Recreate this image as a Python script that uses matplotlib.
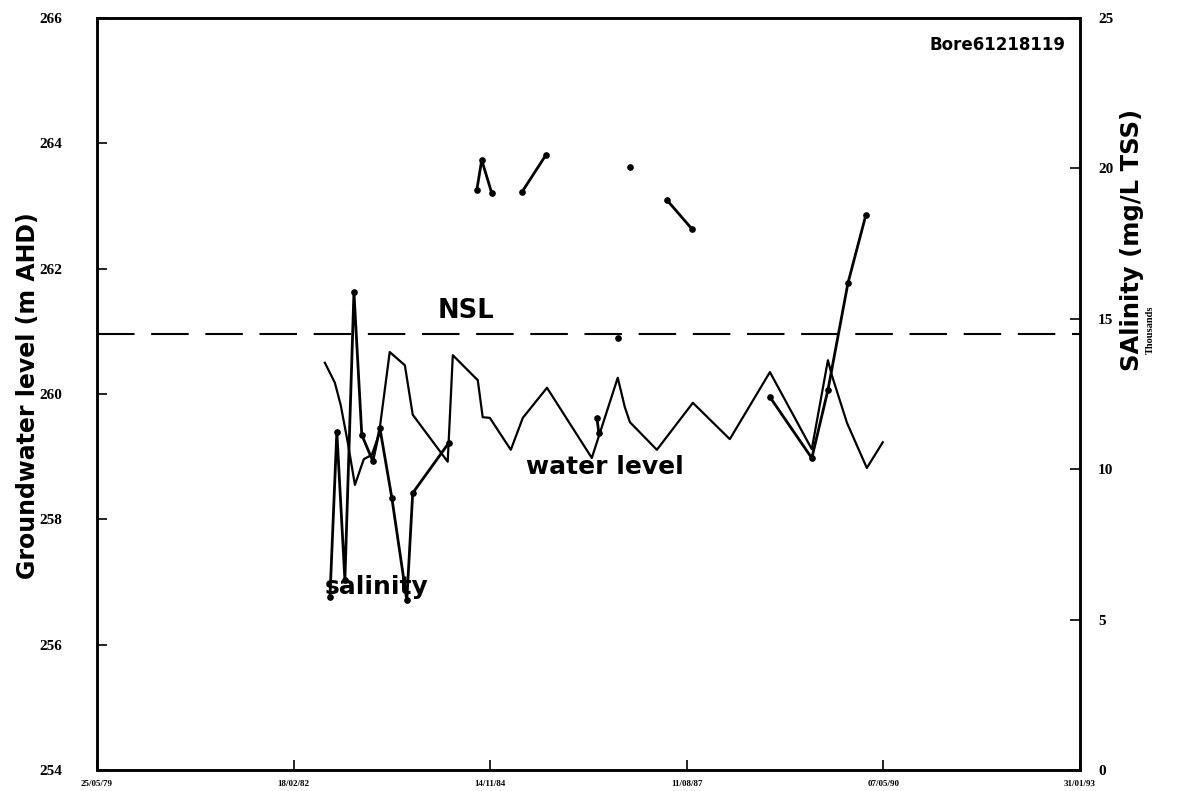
import numpy as np
import pandas as pd
import matplotlib
matplotlib.use("Agg")
import matplotlib.pyplot as plt
import matplotlib.dates as mdates

# --- groundwater level (m AHD) ---
wl_dates = ['27/07/1982', '16/09/1982', '16/10/1982', '21/11/1982', '27/12/1982',
            '10/02/1983', '23/03/1983', '28/04/1983', '22/06/1983', '07/09/1983',
            '17/10/1983', '12/04/1984', '08/05/1984', '12/09/1984', '07/10/1984',
            '12/11/1984', '27/02/1985', '29/04/1985', '30/08/1985', '15/04/1986',
            '25/08/1986', '30/09/1986', '26/10/1986', '12/03/1987', '11/09/1987',
            '17/03/1988', '07/10/1988', '08/05/1989', '29/07/1989', '18/08/1989',
            '03/11/1989', '12/02/1990', '04/05/1990']
wl_values = [260.50, 260.18, 259.82, 259.22, 258.55,
             258.96, 259.03, 259.35, 260.67, 260.46,
             259.67, 258.92, 260.62, 260.22, 259.63,
             259.62, 259.11, 259.62, 260.10, 258.98,
             260.26, 259.79, 259.55, 259.11, 259.86,
             259.28, 260.35, 259.12, 260.54, 260.30,
             259.54, 258.82, 259.23]

# --- salinity (thousand mg/L TSS); run number marks unbroken stretches ---
sal_dates = ['22/08/1982', '26/09/1982', '06/11/1982', '22/12/1982', '31/01/1983',
             '28/03/1983', '03/05/1983', '03/07/1983', '17/09/1983', '17/10/1983',
             '17/04/1984',
             '07/09/1984', '02/10/1984', '22/11/1984',
             '25/04/1985', '25/08/1985',
             '11/05/1986', '21/05/1986',
             '25/08/1986',
             '26/10/1986',
             '02/05/1987', '06/09/1987',
             '07/10/1988', '08/05/1989', '29/07/1989', '08/11/1989', '07/02/1990']
sal_values = [5.75, 11.24, 6.32, 15.89, 11.14,
              10.27, 11.37, 9.04, 5.65, 9.21,
              10.87,
              19.28, 20.28, 19.18,
              19.22, 20.45,
              11.70, 11.20,
              14.36,
              20.05,
              18.95, 17.99,
              12.40, 10.37, 12.63, 16.19, 18.45]
sal_run = [0] * 11 + [1] * 3 + [2] * 2 + [3] * 2 + [4] + [5] + [6] * 2 + [7] * 5

nsl_level = 260.96
x_start, x_end = '25/05/1979', '31/01/1993'

wl = pd.DataFrame({'date': pd.to_datetime(wl_dates, dayfirst=True), 'level': wl_values})
sal = pd.DataFrame({'date': pd.to_datetime(sal_dates, dayfirst=True),
                    'tss': sal_values, 'run': sal_run})

fig = plt.figure(figsize=(11.8, 7.91), dpi=100)
ax = fig.add_axes([0.0822, 0.0265, 0.833, 0.9507])
ax2 = ax.twinx()

ax.plot(wl['date'], wl['level'], color='black', lw=1.6)
ax.axhline(nsl_level, color='black', lw=1.5, linestyle=(0, (18, 8)))

for _, run in sal.groupby('run'):
    ax2.plot(run['date'], run['tss'], color='black', lw=2.0,
             marker='o', markersize=3.8)

t0 = pd.to_datetime(x_start, dayfirst=True)
t1 = pd.to_datetime(x_end, dayfirst=True)
ax.set_xlim(t0, t1)
ax.set_xticks(pd.date_range(t0, periods=6, freq='1000D'))
ax.xaxis.set_major_formatter(mdates.DateFormatter('%d/%m/%y'))

ax.set_ylim(254, 266)
ax.set_yticks(np.arange(254, 267, 2))
ax2.set_ylim(0, 25)
ax2.set_yticks(np.arange(0, 26, 5))

serif = dict(family='Liberation Serif', weight='bold')
for lab in ax.get_xticklabels():
    lab.set_fontsize(6.5)
    lab.set(**serif)
for lab in ax.get_yticklabels() + ax2.get_yticklabels():
    lab.set_fontsize(11)
    lab.set(**serif)

ax.tick_params(axis='y', direction='in', length=7, width=1.2, pad=25)
ax.tick_params(axis='x', direction='in', length=7, width=1.2, pad=7)
ax2.tick_params(axis='y', direction='in', length=7, width=1.2, pad=13)
for a in (ax, ax2):
    for sp in a.spines.values():
        sp.set_linewidth(1.8)

# axis titles placed by hand, the right one sits above the small "Thousands" note
fig.text(0.024, 0.50, 'Groundwater level (m AHD)', rotation=90, ha='center', va='center',
         fontsize=17, fontweight='bold')
fig.text(0.959, 0.697, 'SAlinity (mg/L TSS)', rotation=90, ha='center', va='center',
         fontsize=17.5, fontweight='bold')
fig.text(0.975, 0.583, 'Thousands', rotation=90, ha='center', va='center',
         fontsize=7.5, family='Liberation Serif', weight='bold')

ax.text(0.985, 0.964, 'Bore61218119', transform=ax.transAxes, ha='right', va='center',
        fontsize=12, fontweight='bold')
ax.text(0.347, 0.610, 'NSL', transform=ax.transAxes, ha='left', va='center',
        fontsize=18.5, fontweight='bold')
ax.text(0.436, 0.403, 'water level', transform=ax.transAxes, ha='left', va='center',
        fontsize=18, fontweight='bold')
ax.text(0.232, 0.244, 'salinity', transform=ax.transAxes, ha='left', va='center',
        fontsize=18, fontweight='bold')

fig.savefig('out.png', dpi=100)
